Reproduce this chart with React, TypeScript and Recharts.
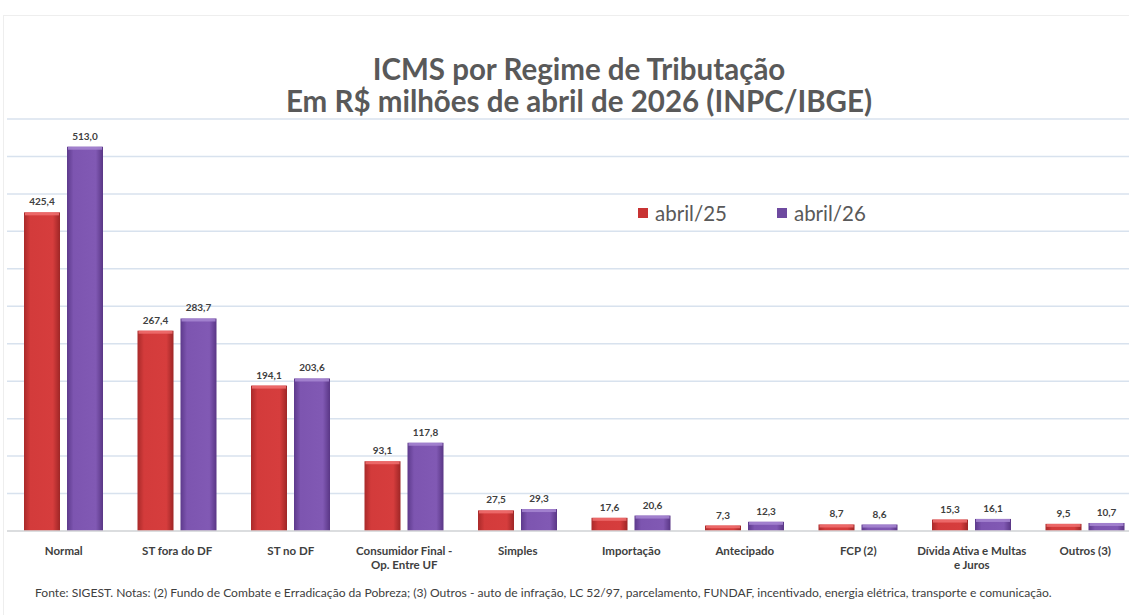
import { Bar, BarChart, CartesianGrid, LabelList, XAxis, YAxis } from "recharts";

const categories = [
  "Normal",
  "ST fora do DF",
  "ST no DF",
  "Consumidor Final -\nOp. Entre UF",
  "Simples",
  "Importação",
  "Antecipado",
  "FCP (2)",
  "Dívida Ativa e Multas\ne Juros",
  "Outros (3)",
];
const abril25 = [425.4, 267.4, 194.1, 93.1, 27.5, 17.6, 7.3, 8.7, 15.3, 9.5];
const abril26 = [513.0, 283.7, 203.6, 117.8, 29.3, 20.6, 12.3, 8.6, 16.1, 10.7];
const yTicks = [0, 50, 100, 150, 200, 250, 300, 350, 400, 450, 500, 550];

const FONT = "Lato, 'Open Sans', sans-serif";

const data = categories.map((name, i) => ({
  name,
  a25: abril25[i],
  a26: abril26[i],
}));

const fmt = (v: unknown) => Number(v).toFixed(1).replace(".", ",");

function CategoryTick(props: any) {
  const { x, y, payload } = props;
  const lines = String(payload.value).split("\n");
  return (
    <text
      x={x}
      y={y}
      textAnchor="middle"
      fill="#404040"
      fontFamily={FONT}
      fontWeight={700}
      fontSize={11.5}
    >
      {lines.map((l, i) => (
        <tspan key={i} x={x} dy={i === 0 ? 16 : 14}>
          {l}
        </tspan>
      ))}
    </text>
  );
}

// bar with a light bevel on top, like the spreadsheet's 3D style
function bevelBar(grad: string, top: string) {
  return (props: any) => {
    const { x, y, width, height } = props;
    if (!height || height <= 0) return null;
    const b = Math.min(3, height / 2);
    return (
      <g>
        <rect x={x} y={y} width={width} height={height} fill={`url(#${grad})`} />
        <rect x={x + 1} y={y} width={width - 2} height={b} fill={top} opacity={0.85} />
      </g>
    );
  };
}

export default function App() {
  return (
    <div
      style={{
        position: "fixed",
        left: 0,
        top: 0,
        width: 1129,
        height: 615,
        overflow: "hidden",
        background: "#ffffff",
      }}
    >
      <div
        style={{
          position: "absolute",
          left: 3,
          top: 15,
          width: 1140,
          height: 620,
          borderTop: "1px solid #eeeeee",
          borderLeft: "1px solid #eeeeee",
        }}
      />
      <div
        style={{
          position: "absolute",
          left: 0,
          width: 1158,
          top: 53,
          textAlign: "center",
          fontFamily: FONT,
          fontWeight: 700,
          fontSize: 29.5,
          lineHeight: "32px",
          color: "#595959",
        }}
      >
        ICMS por Regime de Tributação
        <br />
        Em R$ milhões de abril de 2026 (INPC/IBGE)
      </div>
      <div style={{ position: "absolute", left: 0, top: 0 }}>
        <BarChart
          width={1150}
          height={615}
          data={data}
          margin={{ top: 119, right: 8, left: 7, bottom: 0 }}
          barSize={36}
          barGap={7}
        >
          <defs>
            <linearGradient id="gRed" x1="0" y1="0" x2="1" y2="0">
              <stop offset="0%" stopColor="#a92a2a" />
              <stop offset="18%" stopColor="#d33b3b" />
              <stop offset="80%" stopColor="#d63d3d" />
              <stop offset="100%" stopColor="#9e2626" />
            </linearGradient>
            <linearGradient id="gPurple" x1="0" y1="0" x2="1" y2="0">
              <stop offset="0%" stopColor="#5d3a8c" />
              <stop offset="18%" stopColor="#7d55b0" />
              <stop offset="80%" stopColor="#8159b4" />
              <stop offset="100%" stopColor="#593685" />
            </linearGradient>
          </defs>
          <CartesianGrid vertical={false} stroke="#d8e2ee" strokeWidth={1.5} />
          <YAxis hide domain={[0, 550]} ticks={yTicks} />
          <XAxis
            dataKey="name"
            height={84}
            interval={0}
            tickLine={false}
            stroke="#d9d9d9"
            strokeWidth={1.5}
            tick={<CategoryTick />}
          />
          <Bar
            dataKey="a25"
            name="abril/25"
            fill="#d33b3b"
            shape={bevelBar("gRed", "#f07070")}
            isAnimationActive={false}
          >
            <LabelList
              dataKey="a25"
              position="top"
              offset={7}
              formatter={fmt}
              fill="#404040"
              fontFamily={FONT}
              fontWeight={700}
              fontSize={10}
            />
          </Bar>
          <Bar
            dataKey="a26"
            name="abril/26"
            fill="#7d55b0"
            shape={bevelBar("gPurple", "#a787d2")}
            isAnimationActive={false}
          >
            <LabelList
              dataKey="a26"
              position="top"
              offset={7}
              formatter={fmt}
              fill="#404040"
              fontFamily={FONT}
              fontWeight={700}
              fontSize={10}
            />
          </Bar>
        </BarChart>
      </div>
      <div
        style={{
          position: "absolute",
          left: 638,
          top: 201,
          display: "flex",
          alignItems: "center",
          fontFamily: FONT,
          fontSize: 20.5,
          color: "#595959",
        }}
      >
        <span style={{ width: 10, height: 10, background: "#c83333", marginRight: 7 }} />
        <span>abril/25</span>
        <span style={{ width: 10, height: 10, background: "#6e4aa0", marginLeft: 50, marginRight: 7 }} />
        <span>abril/26</span>
      </div>
      <div
        style={{
          position: "absolute",
          left: 35,
          top: 585,
          fontFamily: FONT,
          fontSize: 12.1,
          color: "#404040",
          whiteSpace: "nowrap",
        }}
      >
        Fonte: SIGEST. Notas: (2) Fundo de Combate e Erradicação da Pobreza; (3) Outros - auto de infração, LC 52/97, parcelamento, FUNDAF, incentivado, energia elétrica, transporte e comunicação.
      </div>
    </div>
  );
}
